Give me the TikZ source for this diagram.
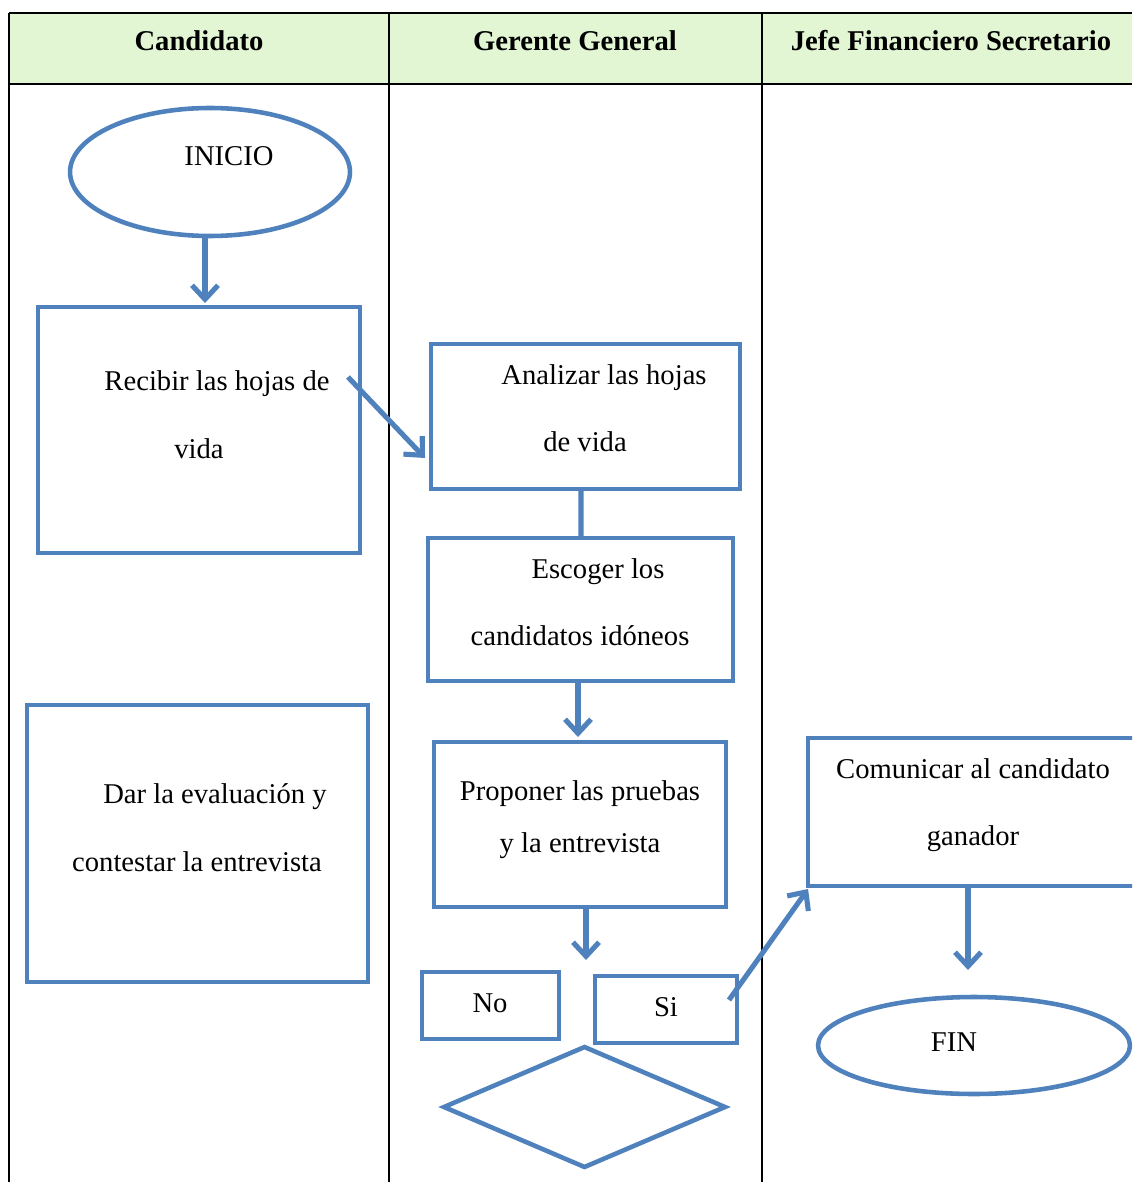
\documentclass[tikz,border=0pt]{standalone}
\usepackage{fontspec}
\setmainfont{Liberation Serif}
\usetikzlibrary{shapes.geometric,arrows.meta,calc}
\definecolor{flowblue}{RGB}{79,129,189}
\definecolor{headgreen}{RGB}{226,246,212}
\begin{document}
\begin{tikzpicture}[x=0.02cm,y=-0.02cm,
  font=\fontsize{16.3}{20}\selectfont,
  flow/.style={draw=flowblue, line width=2.6pt, inner sep=0pt, outer sep=0pt},
  box/.style={flow, rectangle},
  oval/.style={flow, ellipse},
  conn/.style={draw=flowblue, line width=2.9pt},
  arr/.style={conn, -{Straight Barb[length=0.28cm,width=0.52cm]}},
  txt/.style={anchor=base, inner sep=0pt},
  head/.style={txt, font=\fontsize{16.3}{20}\selectfont\bfseries},
  grid/.style={draw=black, line width=1pt}]
\clip (0,0) rectangle (1132,1182);
% table
\fill[headgreen] (9,13) rectangle (1132,84);
\draw[grid] (9,13) -- (1132,13);
\draw[grid] (9,84) -- (1132,84);
\draw[grid] (9,13) -- (9,1182);
\draw[grid] (389,13) -- (389,1182);
\draw[grid] (762,13) -- (762,1182);
\node[head] (h1) at (199,51) {Candidato};
\node[head] (h2) at (575,51) {Gerente General};
\node[head] (h3) at (951,51) {Jefe Financiero Secretario};
% shapes
\node[oval, minimum width=5.6cm, minimum height=2.56cm] (inicio) at (210,172) {};
\node[box, minimum width=6.44cm, minimum height=4.92cm] (recibir) at (199,430) {};
\node[box, minimum width=6.18cm, minimum height=2.9cm] (analizar) at (585.5,416.5) {};
\node[box, minimum width=6.1cm, minimum height=2.86cm] (escoger) at (580.5,609.5) {};
\node[box, minimum width=5.84cm, minimum height=3.3cm] (proponer) at (580,824.5) {};
\node[box, minimum width=2.74cm, minimum height=1.34cm] (no) at (490.5,1005.5) {};
\node[box, minimum width=2.84cm, minimum height=1.34cm] (si) at (666,1009.5) {};
\node[flow, diamond, minimum width=5.62cm, minimum height=2.4cm] (dec) at (584.5,1107) {};
\node[box, minimum width=6.82cm, minimum height=5.54cm] (dar) at (197.5,843.5) {};
\node[box, minimum width=6.84cm, minimum height=2.96cm] (comunicar) at (979,812) {};
\node[oval, minimum width=6.24cm, minimum height=1.94cm] (fin) at (974,1045.5) {};
% texts
\node[txt] (t1) at (229,166) {INICIO};
\node[txt] (t2) at (217,390) {Recibir las hojas de};
\node[txt] (t3) at (199,458) {vida};
\node[txt] (t4) at (604,384) {Analizar las hojas};
\node[txt] (t5) at (585,451) {de vida};
\node[txt] (t6) at (598,578) {Escoger los};
\node[txt] (t7) at (580,645) {candidatos idóneos};
\node[txt] (t8) at (580,800) {Proponer las pruebas};
\node[txt] (t9) at (580,852) {y la entrevista};
\node[txt] (t10) at (215,803) {Dar la evaluación y};
\node[txt] (t11) at (197,871) {contestar la entrevista};
\node[txt] (t12) at (973,778) {Comunicar al candidato};
\node[txt] (t13) at (973,845) {ganador};
\node[txt] (t14) at (490,1012) {No};
\node[txt] (t15) at (666,1016) {Si};
\node[txt] (t16) at (954,1051) {FIN};
% connectors
\coordinate (a1) at ($(inicio.south)+(-5,0)$);
\draw[arr] (a1) -- ($(a1 |- recibir.north)+(0,-4)$);
\draw[arr] ($(recibir.north east)+(-12,70)$) -- ($(analizar.west)+(-6,41.5)$);
\draw[conn] ($(analizar.south)+(-4.5,0)$) -- ($(escoger.north)+(0.5,0)$);
\draw[arr] ($(escoger.south)+(-2.5,0)$) -- ($(proponer.north)+(-2,-5)$);
\coordinate (p1) at (586,960);
\draw[arr] (proponer.south -| p1) -- (p1);
\draw[arr] ($(si.east)+(-8,-9.5)$) -- ($(comunicar.south west)+(0,3)$);
\coordinate (f1) at (968,970);
\draw[arr] (comunicar.south -| f1) -- (f1);
\end{tikzpicture}
\end{document}
